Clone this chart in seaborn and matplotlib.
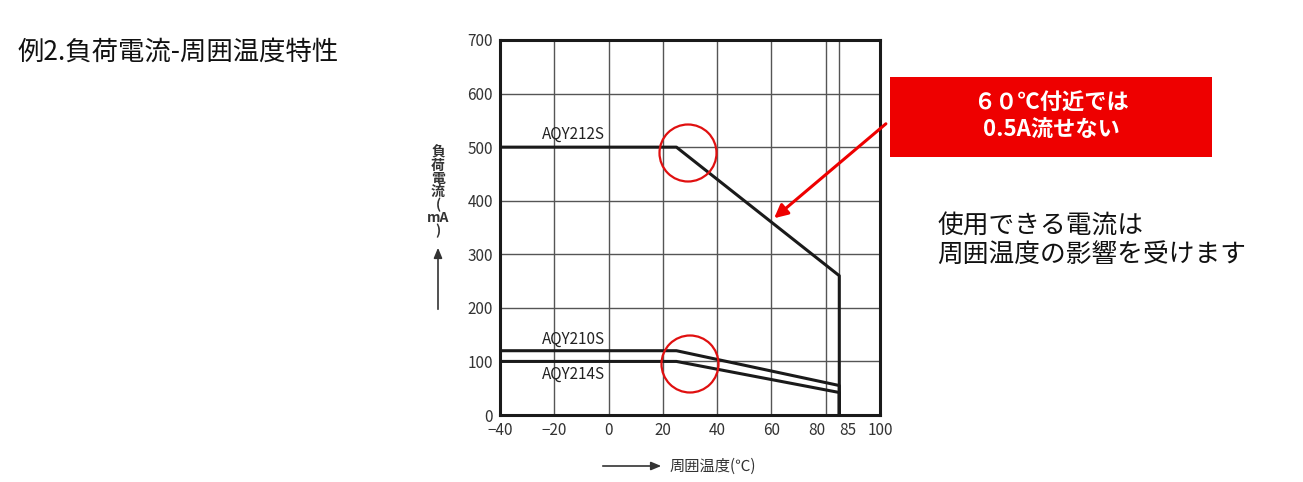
import matplotlib
matplotlib.use("Agg")
import matplotlib.pyplot as plt
import seaborn as sns
import pandas as pd
from matplotlib.patches import Ellipse, Rectangle, FancyArrowPatch

# Derating curves (temperature degC, load current mA)
temp_212s = [-40, 25, 85, 85]
curr_212s = [500, 500, 260, 0]
temp_210s = [-40, 25, 85, 85]
curr_210s = [120, 120, 55, 0]
temp_214s = [-40, 25, 85, 85]
curr_214s = [100, 100, 42, 0]
x_ticks = [-40, -20, 0, 20, 40, 60, 80, 85, 100]
y_ticks = [0, 100, 200, 300, 400, 500, 600, 700]

sns.set_theme(style="white")
plt.rcParams['font.family'] = ['Noto Sans CJK JP', 'DejaVu Sans']

W, H = 1303, 482
fig = plt.figure(figsize=(W / 100, H / 100), dpi=100)
ax = fig.add_axes([500 / W, (H - 415) / H, 380 / W, 375 / H])

for t, c in [(temp_212s, curr_212s), (temp_210s, curr_210s), (temp_214s, curr_214s)]:
    df = pd.DataFrame({"t": t, "c": c})
    sns.lineplot(data=df, x="t", y="c", sort=False, estimator=None,
                 color="#1a1a1a", lw=2.2, ax=ax)

ax.set_xlim(-40, 100)
ax.set_ylim(0, 700)
ax.set_xticks(x_ticks)
ax.set_xticklabels(["−40", "−20", "0", "20", "40", "60", "80", "85", "100"], fontsize=11)
for lbl, ha in zip(ax.get_xticklabels(), ["center"] * 6 + ["right", "left", "center"]):
    lbl.set_ha(ha)
ax.set_yticks(y_ticks)
ax.tick_params(labelsize=11, length=0, pad=5, colors="#333333")
ax.grid(True, color="#555555", lw=1)
for s in ax.spines.values():
    s.set_color("#1a1a1a")
    s.set_linewidth(2.2)
ax.set_xlabel("")
ax.set_ylabel("")

ax.text(-13, 508, "AQY212S", fontsize=11, ha="center", va="bottom", color="#222222")
ax.text(-13, 125, "AQY210S", fontsize=11, ha="center", va="bottom", color="#222222")
ax.text(-13, 92, "AQY214S", fontsize=11, ha="center", va="top", color="#222222")


def fx(px):
    return px / W


def fy(py):
    return 1 - py / H


# red circles around the knees
for cx, cy in [(688, 153), (690, 364)]:
    fig.patches.append(Ellipse((fx(cx), fy(cy)), 57 / W, 57 / H, transform=fig.transFigure,
                               fill=False, ec="#e01010", lw=1.6))

# red callout box
fig.patches.append(Rectangle((fx(890), fy(157)), 322 / W, 80 / H, transform=fig.transFigure,
                             fc="#ee0000", ec="none"))
fig.text(fx(1051), fy(117), "６０℃付近では\n0.5A流せない", color="white", fontsize=16,
         fontweight="bold", ha="center", va="center", linespacing=1.2)
fig.patches.append(FancyArrowPatch(
    (fx(888), fy(122)), (fx(772), fy(220)), transform=fig.transFigure,
    arrowstyle="-|>,head_length=8,head_width=4", color="#ee0000", lw=2.2))

fig.text(fx(937), fy(241), "使用できる電流は\n周囲温度の影響を受けます", fontsize=18.5,
         ha="left", va="center", color="#111111", linespacing=1.15)
fig.text(fx(18), fy(52), "例2.負荷電流-周囲温度特性", fontsize=19, ha="left", va="center",
         color="#111111")

# axis labels
fig.text(fx(438), fy(192), "負\n荷\n電\n流\n(\nmA\n)", fontsize=10, ha="center", va="center",
         linespacing=0.9, color="#333333", fontweight="bold")
fig.patches.append(FancyArrowPatch(
    (fx(438), fy(312)), (fx(438), fy(245)), transform=fig.transFigure,
    arrowstyle="-|>,head_length=6,head_width=2.5", color="#333333", lw=1.2))
fig.patches.append(FancyArrowPatch(
    (fx(600), fy(466)), (fx(664), fy(466)), transform=fig.transFigure,
    arrowstyle="-|>,head_length=6,head_width=2.5", color="#333333", lw=1.2))
fig.text(fx(670), fy(466), "周囲温度(℃)", fontsize=11, ha="left", va="center", color="#333333")

fig.savefig("out.png", dpi=100)
